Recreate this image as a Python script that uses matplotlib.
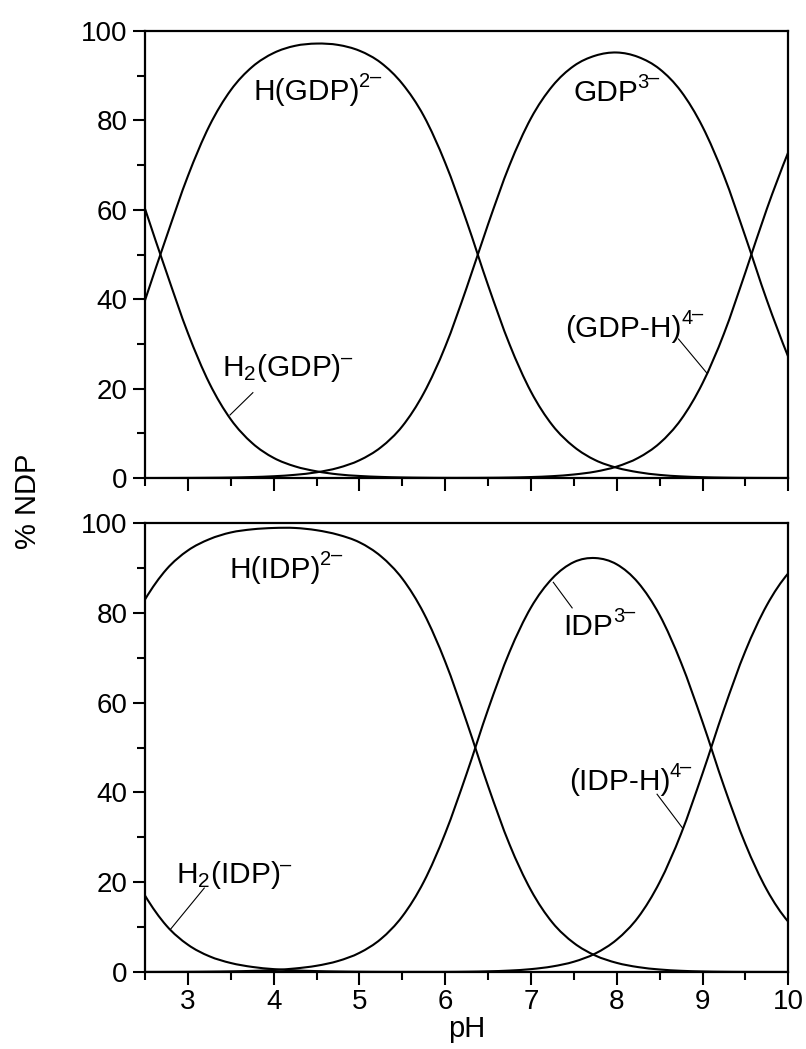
import matplotlib
matplotlib.use("Agg")
from matplotlib import pyplot as plt
from matplotlib.ticker import MultipleLocator
from matplotlib.path import Path
from matplotlib.patches import PathPatch

plt.rcParams['font.family'] = ['Liberation Sans', 'DejaVu Sans']
plt.rcParams['mathtext.fontset'] = 'custom'
plt.rcParams['mathtext.rm'] = 'Liberation Sans'
plt.rcParams['mathtext.it'] = 'Liberation Sans:italic'

# pH grid and % species
ph = [2.5, 2.75, 3.0, 3.25, 3.5, 3.75, 4.0, 4.25, 4.5, 4.75, 5.0, 5.25, 5.5, 5.75,
      6.0, 6.25, 6.5, 6.75, 7.0, 7.25, 7.5, 7.75, 8.0, 8.25, 8.5, 8.75, 9.0, 9.25,
      9.5, 9.75, 10.0]

# GDP (top panel)
gdp_h2 = [60.2, 46.0, 32.4, 21.2, 13.1, 7.8, 4.5, 2.6, 1.5, 0.82, 0.46, 0.25, 0.13, 0.07,
          0.03, 0.02, 0.01, 0, 0, 0, 0, 0, 0, 0, 0, 0, 0, 0, 0, 0, 0]
gdp_h = [39.8, 54.0, 67.6, 78.8, 86.8, 92.0, 95.1, 96.7, 97.2, 96.9, 95.6, 92.9, 88.2, 81.0,
         70.5, 57.4, 43.1, 29.9, 19.3, 11.8, 7.0, 4.0, 2.3, 1.3, 0.7, 0.37, 0.19, 0.09,
         0.04, 0.02, 0.01]
gdp_l = [0.0, 0.01, 0.03, 0.06, 0.11, 0.22, 0.40, 0.72, 1.28, 2.27, 3.98, 6.88, 11.6, 19.0,
         29.4, 42.6, 56.8, 70.0, 80.5, 87.7, 92.2, 94.5, 95.2, 94.2, 91.5, 86.5, 78.6, 67.6,
         54.0, 39.8, 27.1]
gdp_lh = [0, 0, 0, 0, 0, 0, 0, 0, 0, 0, 0, 0, 0, 0,
          0.01, 0.02, 0.05, 0.11, 0.22, 0.42, 0.79, 1.43, 2.56, 4.51, 7.79, 13.1, 21.2, 32.3,
          46.0, 60.2, 72.9]

# IDP (bottom panel)
idp_h2 = [17.0, 10.3, 6.07, 3.50, 2.0, 1.13, 0.64, 0.36, 0.20, 0.11, 0.06, 0.03, 0.02, 0.01,
          0, 0, 0, 0, 0, 0, 0, 0, 0, 0, 0, 0, 0, 0, 0, 0, 0]
idp_h = [83.0, 89.7, 93.9, 96.4, 97.9, 98.6, 98.9, 98.9, 98.4, 97.4, 95.7, 92.6, 87.6, 79.9,
         69.1, 55.7, 41.4, 28.4, 18.2, 11.0, 6.46, 3.67, 2.03, 1.09, 0.56, 0.27, 0.12, 0.05,
         0.02, 0.01, 0.0]
idp_l = [0.01, 0.02, 0.04, 0.08, 0.14, 0.25, 0.44, 0.79, 1.39, 2.45, 4.27, 7.36, 12.4, 20.1,
         30.9, 44.2, 58.5, 71.3, 81.2, 87.7, 91.3, 92.2, 90.8, 86.7, 79.5, 68.9, 55.7, 41.4,
         28.5, 18.3, 11.2]
idp_lh = [0, 0, 0, 0, 0, 0, 0, 0, 0, 0, 0, 0, 0, 0.01,
          0.02, 0.06, 0.15, 0.32, 0.64, 1.24, 2.29, 4.12, 7.21, 12.2, 20.0, 30.8, 44.2, 58.5,
          71.5, 81.7, 88.8]

# label text, charge digit, text position, leader line (from, to) or None
gdp_labels = [
    ('H(GDP)', '2', (3.76, 84.6), None),
    ('GDP', '3', (7.49, 84.3), None),
    ('H$_2$(GDP)', '', (3.40, 22.8), ((3.757, 19.1), (3.49, 14.1))),
    ('(GDP-H)', '4', (7.40, 31.5), ((8.72, 31.1), (9.05, 23.5))),
]
idp_labels = [
    ('H(IDP)', '2', (3.48, 87.7), None),
    ('IDP', '3', (7.38, 75.1), ((7.48, 81.1), (7.26, 86.8))),
    ('(IDP-H)', '4', (7.44, 40.5), ((8.47, 39.6), (8.77, 32.0))),
    ('H$_2$(IDP)', '', (2.86, 19.8), ((3.19, 18.7), (2.80, 9.6))),
]


def smooth_path(x, y):
    # Catmull-Rom through the read points, drawn as cubic bezier segments
    n = len(x)
    d = []
    for i in range(n):
        if i == 0:
            d.append(((-3 * x[0] + 4 * x[1] - x[2]) / 2, (-3 * y[0] + 4 * y[1] - y[2]) / 2))
        elif i == n - 1:
            d.append(((3 * x[-1] - 4 * x[-2] + x[-3]) / 2, (3 * y[-1] - 4 * y[-2] + y[-3]) / 2))
        else:
            d.append(((x[i + 1] - x[i - 1]) / 2, (y[i + 1] - y[i - 1]) / 2))
    verts = [(x[0], y[0])]
    codes = [Path.MOVETO]
    for i in range(n - 1):
        c1 = (x[i] + d[i][0] / 3, y[i] + d[i][1] / 3)
        c2 = (x[i + 1] - d[i + 1][0] / 3, y[i + 1] - d[i + 1][1] / 3)
        verts += [c1, c2, (x[i + 1], y[i + 1])]
        codes += [Path.CURVE4] * 3
    return Path(verts, codes)


fig = plt.figure(figsize=(8.06, 10.49), dpi=100)
ax1 = fig.add_axes([0.18, 0.5443, 0.798, 0.4261])
ax2 = fig.add_axes([0.18, 0.0734, 0.798, 0.4280])

panels = [(ax1, [gdp_h2, gdp_h, gdp_l, gdp_lh], gdp_labels),
          (ax2, [idp_h2, idp_h, idp_l, idp_lh], idp_labels)]

for ax, series, labels in panels:
    for s in series:
        ax.add_patch(PathPatch(smooth_path(ph, s), facecolor='none',
                               edgecolor='black', lw=1.5))
    for txt, charge, pos, leader in labels:
        t = ax.text(pos[0], pos[1], txt, fontsize=21.5, ha='left', va='baseline')
        # charge written as raised digit plus a dash near the digit top
        if charge:
            c = ax.annotate(charge, xy=(1, pos[1]), xycoords=(t, 'data'),
                            xytext=(-0.5, 9.5), textcoords='offset points',
                            fontsize=14.5, ha='left', va='baseline')
            ax.annotate('\u2013', xy=(1, pos[1]), xycoords=(c, 'data'),
                        xytext=(-0.3, 12.5), textcoords='offset points',
                        fontsize=14.5, ha='left', va='baseline')
        else:
            ax.annotate('\u2013', xy=(1, pos[1]), xycoords=(t, 'data'),
                        xytext=(0, 9), textcoords='offset points',
                        fontsize=14.5, ha='left', va='baseline')
        if leader is not None:
            ax.plot([leader[0][0], leader[1][0]], [leader[0][1], leader[1][1]],
                    color='black', lw=0.8)
    ax.set_xlim(2.5, 10)
    ax.set_ylim(0, 100)
    ax.xaxis.set_major_locator(MultipleLocator(1))
    ax.xaxis.set_minor_locator(MultipleLocator(0.5))
    ax.yaxis.set_major_locator(MultipleLocator(20))
    ax.yaxis.set_minor_locator(MultipleLocator(10))
    ax.tick_params(which='major', direction='out', length=9, width=1.5, labelsize=20)
    ax.tick_params(which='minor', direction='out', length=6, width=1.5)
    for sp in ax.spines.values():
        sp.set_linewidth(1.6)

ax1.tick_params(labelbottom=False)
ax2.set_xlabel('pH', fontsize=21, labelpad=0)
fig.text(0.035, 0.522, '% NDP', rotation=90, fontsize=21, ha='center', va='center')

fig.savefig('out.png', dpi=100)
